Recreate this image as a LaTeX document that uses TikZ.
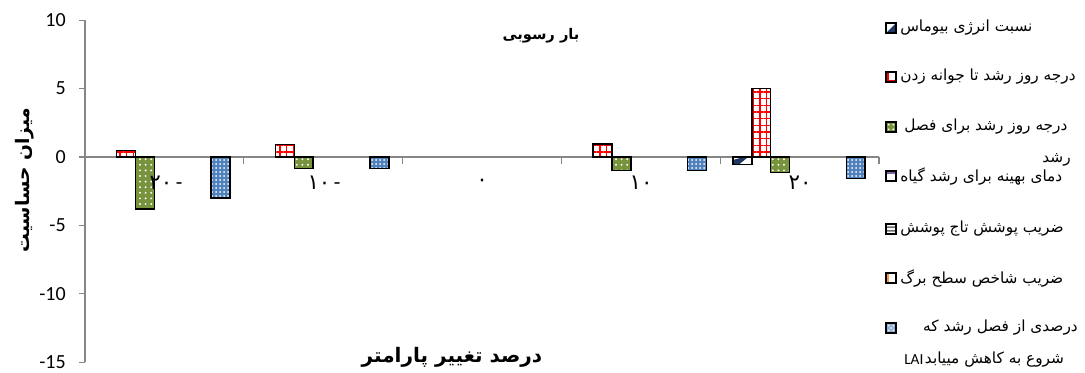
\documentclass[tikz,border=0pt]{standalone}
\usepackage{fontspec}
\setmainfont{Carlito}
\newfontfamily\farsifont[Script=Arabic]{DejaVu Sans}
\TeXXeTstate=1
\usetikzlibrary{patterns.meta}

\definecolor{axisgray}{RGB}{134,134,134}
\definecolor{barred}{RGB}{255,0,0}
\definecolor{bargreen}{RGB}{119,147,60}
\definecolor{barblue}{RGB}{79,129,189}
\definecolor{lightblue}{RGB}{149,179,215}
\definecolor{barnavy}{RGB}{31,56,100}
\definecolor{barpurple}{RGB}{128,100,162}
\definecolor{barorange}{RGB}{247,150,70}
\definecolor{bargray}{RGB}{110,110,110}

\newcommand{\fa}[1]{{\farsifont\beginR #1\endR}}

\tikzset{
  axisline/.style={color=axisgray, line width=1pt},
  barbox/.style={draw=black, line width=1.1pt},
  redbar/.style={barbox, preaction={fill=white}, pattern={Hatch[angle=0,distance=5pt,line width=1pt]}, pattern color=barred},
  greenbar/.style={barbox, preaction={fill=bargreen}, pattern={Dots[distance=4.2pt,radius=0.8pt]}, pattern color=white},
  bluebar/.style={barbox, preaction={fill=barblue}, pattern={Dots[distance=3pt,radius=0.75pt]}, pattern color=white},
  legbox/.style={draw=black, line width=1pt},
  ticklabel/.style={anchor=east, inner sep=0.75pt, font=\fontsize{15}{15}\selectfont},
  catlabel/.style={inner sep=0.75pt, font=\fontsize{16}{16}\selectfont},
  legtext/.style={anchor=west, inner sep=0.75pt, font=\fontsize{11.5}{11.5}\selectfont},
  legtextr/.style={legtext, anchor=east},
  titletext/.style={inner sep=0.75pt, font=\bfseries\fontsize{11}{11}\selectfont},
  axistitle/.style={inner sep=0.75pt, font=\bfseries\fontsize{14}{14}\selectfont},
}

\begin{document}
\begin{tikzpicture}[x=0.75pt,y=0.75pt,yscale=-1,xscale=1]
\useasboundingbox (0,0) rectangle (1085,372);

%Shape: Axis 2D
\draw[axisline] (85,20.2) -- (85,362.2) ;
\draw[axisline] (85,157) -- (879,157) ;
%Ticks
\draw[axisline] (79,20.2) -- (85,20.2) (79,88.6) -- (85,88.6) (79,157) -- (85,157) (79,225.4) -- (85,225.4) (79,293.8) -- (85,293.8) (79,362.2) -- (85,362.2) ;
\draw[axisline] (243.8,157) -- (243.8,164) (402.6,157) -- (402.6,164) (561.4,157) -- (561.4,164) (720.2,157) -- (720.2,164) (879,157) -- (879,164) ;

%Bars at -20
\draw[redbar] (116.6,150.7) rectangle (135.5,157) ;
\draw[greenbar] (135.5,157) rectangle (154.4,209) ;
\draw[bluebar] (210.9,157) rectangle (229.8,198) ;
%Bars at -10
\draw[redbar] (275.4,144.3) rectangle (294.3,157) ;
\draw[greenbar] (294.3,157) rectangle (313.2,168.5) ;
\draw[bluebar] (369.9,157) rectangle (388.8,168.5) ;
%Bars at 10
\draw[redbar] (593,144) rectangle (611.9,157) ;
\draw[greenbar] (611.9,157) rectangle (630.8,170.7) ;
\draw[bluebar] (687.5,157) rectangle (706.4,170.7) ;
%Bars at 20
\fill[white] (732.9,157) rectangle (751.8,164.5) ;
\fill[barnavy] (732.9,164.5) -- (732.9,160) -- (744,157) -- (748,157) -- (739,164.5) -- cycle ;
\draw[barbox] (732.9,157) rectangle (751.8,164.5) ;
\draw[redbar] (751.8,88.6) rectangle (770.7,157) ;
\draw[greenbar] (770.7,157) rectangle (789.6,172.3) ;
\draw[bluebar] (846.3,157) rectangle (865.2,178.5) ;

% Text Node
\node[ticklabel] (ytick10) at (67,20.2) {10};
\node[ticklabel] (ytick5) at (67,88.6) {5};
\node[ticklabel] (ytick0) at (67,157) {0};
\node[ticklabel] (ytickm5) at (67,225.4) {-5};
\node[ticklabel] (ytickm10) at (67,293.8) {-10};
\node[ticklabel] (ytickm15) at (67,362.2) {-15};
% Text Node
\node[catlabel] (catm20) at (166,183) {{\farsifont ۲۰}\,-};
\node[catlabel] (catm10) at (324,183) {{\farsifont ۱۰}\,-};
\node[catlabel] (cat0) at (482,183) {\farsifont ۰};
\node[catlabel] (cat10) at (641,183) {\farsifont ۱۰};
\node[catlabel] (cat20) at (800,183) {\farsifont ۲۰};
% Text Node
\node[titletext] (title) at (541,36) {\fa{بار رسوبی}};
\node[axistitle, font=\bfseries\fontsize{15}{15}\selectfont] (xtitle) at (452,357) {\fa{درصد تغییر پارامتر}};
\node[axistitle, rotate=90] (ytitle) at (25,180) {\fa{میزان حساسیت}};

%Legend keys
\fill[white] (886,23) rectangle (896,33) ;
\fill[barnavy] (886,33) -- (896,33) -- (896,23) -- cycle ;
\draw[legbox] (886,23) rectangle (896,33) ;
\fill[barred] (886,72) rectangle (896,82) ;
\fill[white] (888.5,72) rectangle (896,79.5) ;
\draw[legbox] (886,72) rectangle (896,82) ;
\fill[bargreen] (886,122) rectangle (896,132) ;
\fill[white] (888.7,124.7) circle (1) (893.3,124.7) circle (1) (888.7,129.3) circle (1) (893.3,129.3) circle (1) ;
\draw[legbox] (886,122) rectangle (896,132) ;
\fill[white] (886,171) rectangle (896,181) ;
\fill[barpurple] (886,171) rectangle (896,173.8) ;
\draw[legbox] (886,171) rectangle (896,181) ;
\fill[white] (886,224) rectangle (896,234) ;
\fill[bargray] (886,226.3) rectangle (896,227.9) (886,230.1) rectangle (896,231.7) ;
\draw[legbox] (886,224) rectangle (896,234) ;
\fill[white] (886,273) rectangle (896,283) ;
\fill[barorange] (886,273) rectangle (889.3,283) ;
\draw[legbox] (886,273) rectangle (896,283) ;
\fill[lightblue] (886,323) rectangle (896,333) ;
\fill[white] (888.7,325.7) circle (0.8) (893.3,325.7) circle (0.8) (891,328) circle (0.8) (888.7,330.3) circle (0.8) (893.3,330.3) circle (0.8) ;
\draw[legbox] (886,323) rectangle (896,333) ;

% Text Node
\node[legtext] (leg1) at (899,28) {\fa{نسبت انرژی بیوماس}};
\node[legtext] (leg2) at (899,77) {\fa{درجه روز رشد تا جوانه زدن}};
\node[legtext] (leg3) at (903,127) {\fa{درجه روز رشد برای فصل}};
\node[legtextr] (leg3b) at (1072,160) {\fa{رشد}};
\node[legtext] (leg4) at (899,176) {\fa{دمای بهینه برای رشد گیاه}};
\node[legtext] (leg5) at (899,229) {\fa{ضریب پوشش تاج پوشش}};
\node[legtext] (leg6) at (899,278) {\fa{ضریب شاخص سطح برگ}};
\node[legtextr] (leg7) at (1079,328) {\fa{درصدی از فصل رشد که}};
\node[legtext] (leg7lai) at (903,360) {LAI};
\node[legtext, inner sep=0pt] (leg7b) at (leg7lai.east) {\fa{شروع به کاهش مییابد}};

\end{tikzpicture}
\end{document}
